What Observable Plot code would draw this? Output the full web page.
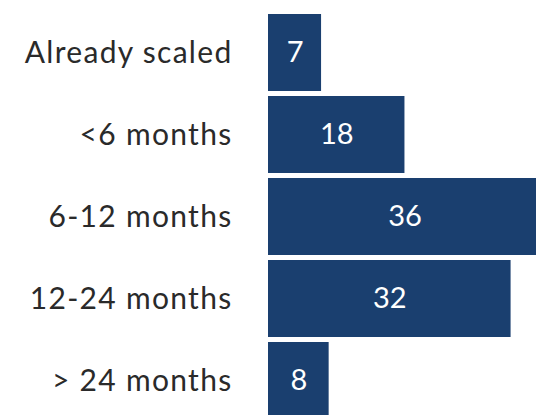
<!DOCTYPE html>
<html>
<head>
<meta charset="utf-8">
<script src="https://cdn.jsdelivr.net/npm/d3@7"></script>
<script src="https://cdn.jsdelivr.net/npm/@observablehq/plot@0.6"></script>
<style>
  html, body { margin: 0; padding: 0; background: #fff; overflow: hidden; }
  #chart { width: 536px; height: 415px; overflow: hidden; }
</style>
</head>
<body>
<div id="chart"></div>
<script>
const categories = ["Already scaled", "<6 months", "6-12 months", "12-24 months", "> 24 months"];
const values = [7, 18, 36, 32, 8];

const data = categories.map((c, i) => ({category: c, value: values[i]}));

const chart = Plot.plot({
  width: 536,
  height: 415,
  marginLeft: 268,
  marginRight: 0,
  marginTop: 0,
  marginBottom: 0,
  style: {fontFamily: "Lato, sans-serif", fontSize: "30px", background: "#fff"},
  x: {domain: [0, 36], range: [268, 540.9], axis: null},
  y: {domain: categories, range: [12, 422], paddingInner: 0.06, paddingOuter: 0, axis: null},
  marks: [
    Plot.barX(data, {y: "category", x: "value", fill: "#1a3f6f"}),
    Plot.text(data, {y: "category", x: d => d.value / 2, text: d => String(d.value), fill: "#fff", fontSize: 29}),
    Plot.axisY({tickSize: 0, tickPadding: 36, fontSize: 30, color: "#2a2a2a", textAnchor: "end", label: null})
  ]
});
d3.select(chart).selectAll('g[aria-label="y-axis tick label"]').style("letter-spacing", "1.3px");
document.getElementById("chart").appendChild(chart);
</script>
</body>
</html>
